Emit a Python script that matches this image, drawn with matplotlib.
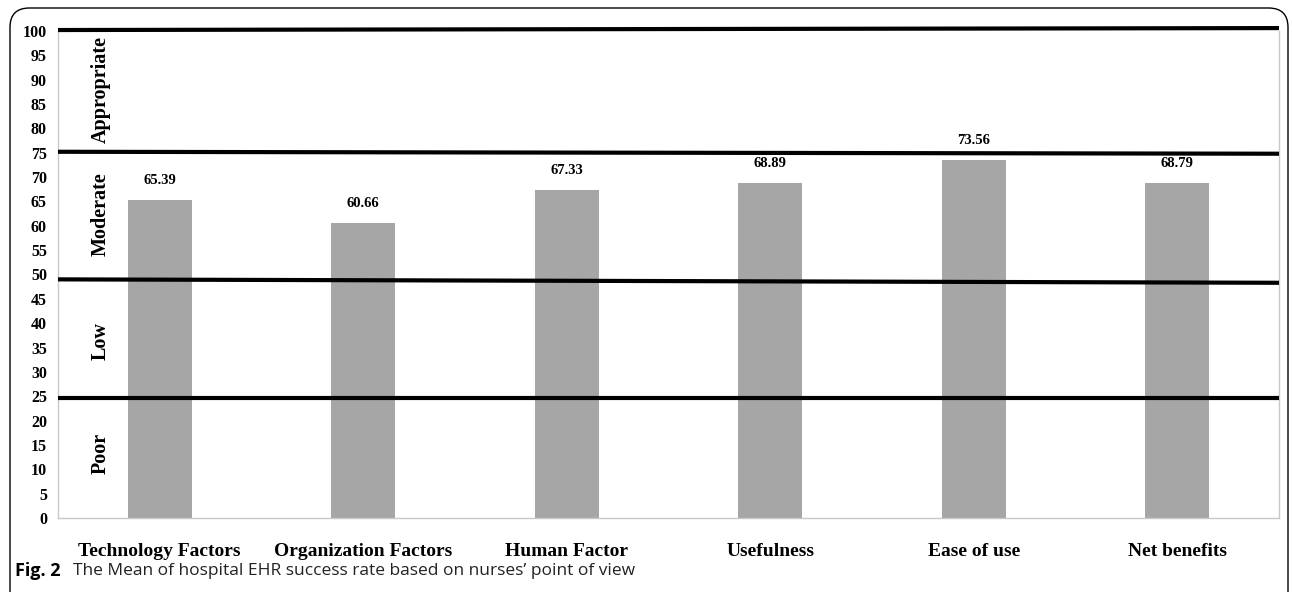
import matplotlib.pyplot as plt
from matplotlib.patches import FancyBboxPatch

categories = ["Technology Factors", "Organization Factors", "Human Factor",
              "Usefulness", "Ease of use", "Net benefits"]
values = [65.39, 60.66, 67.33, 68.89, 73.56, 68.79]
yticks = list(range(0, 101, 5))
boundary_left = [100.2, 75.2, 49.0, 24.7]
boundary_right = [100.6, 74.8, 48.3, 24.7]
zones = ["Appropriate", "Moderate", "Low", "Poor"]
zone_centers = [88, 62.3, 36.4, 13.2]

serif = ["Liberation Serif", "DejaVu Serif"]

fig = plt.figure(figsize=(12.92, 5.92), dpi=100)
# outer rounded frame
frame = FancyBboxPatch((10/1292, -0.05), 1278/1292, 0.05 + (592-8)/592,
                       boxstyle="round,pad=0,rounding_size=0.015",
                       transform=fig.transFigure, fill=False, ec="black", lw=1.0,
                       mutation_aspect=1292/592)
fig.patches.append(frame)

ax = fig.add_axes([58/1292, 74/592, 1221/1292, 487/592])
x = list(range(len(categories)))
ax.bar(x, values, width=0.315, color="#a6a6a6", zorder=2)
for xi, v in zip(x, values):
    ax.text(xi, v + 2.6, f"{v:.2f}", ha="center", va="bottom",
            fontsize=10.5, fontweight="bold", family=serif)

for l, r in zip(boundary_left, boundary_right):
    ax.plot([-0.5, 5.5], [l, r], color="black", lw=3, zorder=3,
            solid_capstyle="butt", clip_on=False)

for name, yc in zip(zones, zone_centers):
    ax.text(-0.29, yc, name, rotation=90, ha="center", va="center",
            fontsize=14.5, fontweight="bold", family=serif)

ax.set_xlim(-0.5, 5.5)
ax.set_ylim(0, 100)
ax.set_yticks(yticks)
ax.set_yticklabels([str(t) for t in yticks], fontsize=11.5, fontweight="bold",
                   family=serif)
ax.set_xticks(x)
ax.set_xticklabels(categories, fontsize=14, fontweight="bold", family=serif)
ax.tick_params(axis="both", length=0)
ax.tick_params(axis="x", pad=18)
ax.tick_params(axis="y", pad=8)
for s in ["left", "right", "bottom"]:
    ax.spines[s].set_color("#c8c8c8")
    ax.spines[s].set_linewidth(1.0)
ax.spines["top"].set_visible(False)

fig.text(15/1292, 1 - 571/592, "Fig. 2", fontsize=13, fontweight="bold",
         family=["Open Sans", "DejaVu Sans"], va="center", ha="left")
fig.text(73/1292, 1 - 571/592,
         "The Mean of hospital EHR success rate based on nurses\u2019 point of view",
         fontsize=12.5, family=["Open Sans", "DejaVu Sans"], va="center", ha="left",
         color="#222222")

fig.savefig("out.png", dpi=100)
